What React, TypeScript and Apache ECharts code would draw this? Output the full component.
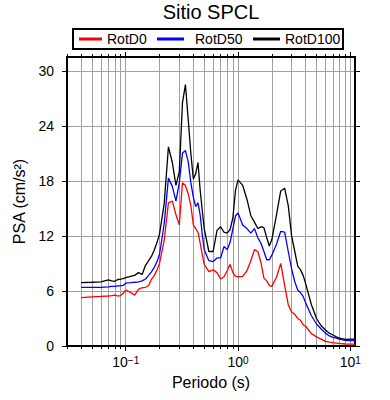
import React, { useEffect, useRef } from "react";
import * as echarts from "echarts";

// Periods (s)
const periods = [
  0.04, 0.05, 0.06, 0.07, 0.075, 0.08, 0.085, 0.09, 0.095, 0.1,
  0.11, 0.12, 0.13, 0.14, 0.15, 0.16, 0.17, 0.18, 0.19, 0.2,
  0.22, 0.24, 0.26, 0.28, 0.3, 0.32, 0.34, 0.36, 0.38, 0.4,
  0.42, 0.44, 0.46, 0.48, 0.5, 0.55, 0.6, 0.65, 0.7, 0.75,
  0.8, 0.85, 0.9, 0.95, 1.0, 1.1, 1.2, 1.3, 1.4, 1.5,
  1.6, 1.7, 1.8, 1.9, 2.0, 2.2, 2.4, 2.6, 2.8, 3.0,
  3.2, 3.4, 3.6, 3.8, 4.0, 4.5, 5.0, 5.5, 6.0, 6.5,
  7.0, 7.5, 8.0, 9.0, 10, 11,
];

const rotD0 = [
  5.28, 5.35, 5.4, 5.45, 5.5, 5.55, 5.45, 5.5, 5.75, 6.1,
  5.85, 5.55, 6.2, 6.35, 6.4, 6.6, 7.3, 7.7, 8.3, 9.0,
  11.5, 15.6, 15.8, 14.3, 13.2, 17.8, 17.5, 16.6, 15.3, 13.2,
  12.8, 12.4, 11.2, 10.0, 8.9, 8.1, 8.3, 8.0, 7.3, 7.55,
  8.2, 8.9, 8.0, 7.6, 7.55, 7.6, 8.2, 9.3, 10.5, 10.3,
  9.1, 7.4, 7.1, 6.6, 6.5, 7.5, 9.0, 6.6, 4.5, 3.7,
  3.45, 3.0, 2.8, 2.3, 2.15, 1.35, 1.0, 0.75, 0.5, 0.42,
  0.36, 0.32, 0.28, 0.22, 0.2, 0.2,
];

const rotD50 = [
  6.4, 6.4, 6.4, 6.45, 6.5, 6.5, 6.55, 6.55, 6.6, 6.85,
  6.9, 6.95, 7.0, 7.1, 7.3, 7.7, 8.1, 8.6, 9.2, 10.0,
  13.3, 18.3, 17.4, 15.8, 17.8, 21.0, 21.3, 20.1, 17.8, 16.2,
  15.2, 15.6, 14.3, 12.2, 10.5, 9.3, 9.2, 9.6, 9.6, 10.85,
  10.5, 11.3, 12.8, 14.2, 14.5, 13.2, 12.8, 12.3, 12.8, 11.8,
  11.2, 10.3, 9.4, 9.4, 9.9, 11.1, 12.5, 12.4, 10.3, 8.4,
  7.0, 6.1, 5.8, 5.4, 4.7, 3.3, 2.4, 1.85, 1.4, 1.1,
  0.95, 0.85, 0.75, 0.62, 0.6, 0.6,
];

const rotD100 = [
  6.9, 6.95, 7.0, 7.2, 7.1, 7.05, 7.25, 7.3, 7.35, 7.45,
  7.6, 7.7, 8.0, 7.8, 8.8, 9.3, 9.8, 10.5, 11.3, 12.2,
  15.5, 21.7, 20.0, 17.5, 19.0, 26.5, 28.5, 24.7, 21.0, 18.2,
  18.8, 20.0, 17.0, 14.8, 12.8, 10.3, 10.3, 12.6, 13.0, 12.4,
  12.3, 12.7, 14.0, 17.0, 18.1, 17.5, 16.0, 14.2, 13.5, 12.8,
  13.0, 12.9, 11.8, 10.9, 11.6, 14.3, 16.9, 17.2, 15.3, 12.0,
  10.3, 8.7, 8.3, 7.7, 6.8, 4.5, 3.0, 2.2, 1.75, 1.4,
  1.2, 1.0, 0.85, 0.73, 0.75, 0.75,
];

const seriesNames = ["RotD0", "RotD50", "RotD100"];
const seriesColors = ["#ff0000", "#0000ff", "#000000"];

// Axis ticks
const xMajorTicks = [0.1, 1, 10];
const xAllTicks = [
  0.03, 0.04, 0.05, 0.06, 0.07, 0.08, 0.09,
  0.1, 0.2, 0.3, 0.4, 0.5, 0.6, 0.7, 0.8, 0.9,
  1, 2, 3, 4, 5, 6, 7, 8, 9, 10,
];
const yTicks = [0, 6, 12, 18, 24, 30];
const xMin = 0.03;
const xMax = 11;
const yMin = 0;
const yMax = 31.5;

const FONT = "'Liberation Sans', Arial, Helvetica, sans-serif";

export default function App() {
  const ref = useRef<HTMLDivElement>(null);
  useEffect(() => {
    if (!ref.current) return;
    const chart = echarts.init(ref.current, undefined, { renderer: "svg" });
    const lg = (v: number) => Math.log10(v);
    const seriesData = [rotD0, rotD50, rotD100];
    const xBase = {
      type: "value" as const,
      min: lg(xMin),
      max: lg(xMax),
      gridIndex: 0,
    };
    const frameLine = {
      show: true,
      onZero: false,
      lineStyle: { color: "#000", width: 2 },
    };
    const noLine = { show: false, onZero: false };
    const supFormatter = (v: number) => {
      const e = Math.round(v);
      const s = e < 0 ? "\u2212" + String(-e) : String(e);
      return "10{sup|" + s + "}";
    };
    const option: any = {
      animation: false,
      backgroundColor: "#ffffff",
      textStyle: { fontFamily: FONT },
      grid: {
        left: 67,
        right: 35,
        top: 57,
        bottom: 54,
        containLabel: false,
        outerBoundsMode: "none",
      },
      graphic: [
        {
          type: "text",
          x: 211,
          y: 2,
          style: {
            text: "Sitio SPCL",
            fontSize: 20,
            fontFamily: FONT,
            fill: "#000",
            textAlign: "center",
            textVerticalAlign: "top",
          },
        },
        {
          type: "rect",
          shape: { x: 73, y: 29, width: 270, height: 20 },
          style: { fill: "none", stroke: "#000", lineWidth: 2 },
        },
      ],
      legend: [
        { name: 0, left: 79, itemWidth: 23 },
        { name: 1, left: 157, itemWidth: 27, pad: 6 },
        { name: 2, left: 253, itemWidth: 27 },
      ].map((l) => ({
        data: [seriesNames[l.name]],
        left: l.left,
        top: 32,
        padding: 0,
        icon: "rect",
        itemWidth: l.itemWidth,
        itemHeight: 3,
        selectedMode: false,
        textStyle: {
          fontSize: 14,
          color: "#000",
          fontFamily: FONT,
          padding: [0, 0, 0, l.pad || 0],
        },
      })),
      xAxis: [
        {
          ...xBase,
          position: "bottom",
          name: "Periodo (s)",
          nameLocation: "middle",
          nameGap: 28,
          nameTextStyle: { fontSize: 16, color: "#000", fontFamily: FONT },
          axisLine: frameLine,
          axisTick: {
            show: true,
            customValues: xMajorTicks.map(lg),
            length: 5,
            lineStyle: { color: "#000", width: 1 },
          },
          axisLabel: {
            show: true,
            customValues: xMajorTicks.map(lg),
            formatter: supFormatter,
            margin: 9,
            fontSize: 14,
            color: "#000",
            fontFamily: FONT,
            rich: {
              sup: {
                fontSize: 10,
                color: "#000",
                fontFamily: FONT,
                verticalAlign: "top",
                lineHeight: 10,
              },
            },
          },
          splitLine: { show: false },
        },
        {
          ...xBase,
          position: "bottom",
          axisLine: noLine,
          axisTick: {
            show: true,
            customValues: xAllTicks.map(lg),
            length: 3,
            lineStyle: { color: "#000", width: 1 },
          },
          axisLabel: { show: false },
          splitLine: {
            show: true,
            lineStyle: { color: "#a0a0a0", width: 1 },
          },
        },
        {
          ...xBase,
          position: "top",
          axisLine: frameLine,
          axisTick: {
            show: true,
            customValues: xAllTicks.map(lg),
            length: 3,
            lineStyle: { color: "#000", width: 1 },
          },
          axisLabel: { show: false },
          splitLine: { show: false },
        },
        {
          ...xBase,
          position: "top",
          axisLine: noLine,
          axisTick: {
            show: true,
            customValues: xMajorTicks.map(lg),
            length: 5,
            lineStyle: { color: "#000", width: 1 },
          },
          axisLabel: { show: false },
          splitLine: { show: false },
        },
      ],
      yAxis: [
        {
          type: "value",
          min: yMin,
          max: yMax,
          position: "left",
          name: "PSA (cm/s\u00b2)",
          nameLocation: "middle",
          nameGap: 31,
          nameTextStyle: { fontSize: 16, color: "#000", fontFamily: FONT },
          axisLine: frameLine,
          axisTick: {
            show: true,
            customValues: yTicks,
            length: 5,
            lineStyle: { color: "#000", width: 1 },
          },
          axisLabel: {
            show: true,
            customValues: yTicks,
            margin: 13,
            fontSize: 14,
            color: "#000",
            fontFamily: FONT,
          },
          splitLine: {
            show: true,
            lineStyle: { color: "#a0a0a0", width: 1 },
          },
        },
        {
          type: "value",
          min: yMin,
          max: yMax,
          position: "right",
          axisLine: frameLine,
          axisTick: {
            show: true,
            customValues: yTicks,
            length: 5,
            lineStyle: { color: "#000", width: 1 },
          },
          axisLabel: { show: false },
          splitLine: { show: false },
        },
      ],
      series: seriesNames.map((name, i) => ({
        name,
        type: "line",
        xAxisIndex: 0,
        yAxisIndex: 0,
        data: periods.map((p, j) => [lg(p), seriesData[i][j]]),
        showSymbol: false,
        symbol: "none",
        color: seriesColors[i],
        lineStyle: { color: seriesColors[i], width: 1.3 },
        z: 3,
      })),
    };
    chart.setOption(option);
    return () => chart.dispose();
  }, []);
  return (
    <div
      ref={ref}
      style={{
        position: "fixed",
        left: 0,
        top: 0,
        width: 390,
        height: 400,
        background: "#fff",
      }}
    />
  );
}
